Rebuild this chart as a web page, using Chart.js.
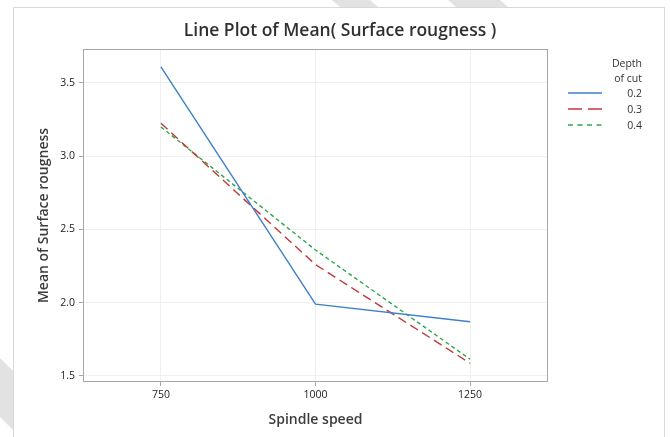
<!DOCTYPE html>
<html>
<head>
<meta charset="utf-8">
<script src="https://cdn.jsdelivr.net/npm/chart.js@4.4.1/dist/chart.umd.min.js"></script>
<style>
  html, body { margin: 0; padding: 0; background: #fff; }
  #wrap { position: relative; width: 670px; height: 437px; }
</style>
</head>
<body>
<div id="wrap"><canvas id="c" width="670" height="437"></canvas></div>
<script>
// ---- data ----
const spindleSpeed = [750, 1000, 1250];
const depthLabels = ['0.2', '0.3', '0.4'];
const mean02 = [3.61, 1.99, 1.87];
const mean03 = [3.225, 2.26, 1.587];
const mean04 = [3.2, 2.36, 1.614];
const yTicks = [1.5, 2.0, 2.5, 3.0, 3.5];
const xTicks = [750, 1000, 1250];
const chartTitle = 'Line Plot of Mean( Surface rougness )';
const xTitle = 'Spindle speed';
const yTitle = 'Mean of Surface rougness';
const legendTitle = ['Depth', 'of cut'];

const FONT = '"Open Sans", "Noto Sans", sans-serif';
const seriesVals = [mean02, mean03, mean04];
const colors = ['#3f7fc6', '#c1393b', '#2da84a'];
const dashes = [[], [9, 5], [4, 3]];
const legendDashes = [[], [14, 6], [5, 4.5]];

const datasets = seriesVals.map((vals, i) => ({
  label: depthLabels[i],
  data: spindleSpeed.map((x, j) => ({ x: x, y: vals[j] })),
  borderColor: colors[i],
  backgroundColor: colors[i],
  borderWidth: 1.4,
  borderDash: dashes[i],
  pointRadius: 0,
  fill: false,
  tension: 0
}));

const decor = {
  id: 'decor',
  beforeDraw(chart) {
    const ctx = chart.ctx;
    ctx.save();
    ctx.fillStyle = '#fff';
    ctx.fillRect(0, 0, chart.width, chart.height);
    // faint watermark bands
    ctx.fillStyle = '#e2e2e2';
    ctx.beginPath();
    ctx.moveTo(332, 0); ctx.lineTo(370, 0); ctx.lineTo(378, 7); ctx.lineTo(340, 7); ctx.closePath(); ctx.fill();
    ctx.beginPath();
    ctx.moveTo(448, 0); ctx.lineTo(500, 0); ctx.lineTo(508, 7); ctx.lineTo(456, 7); ctx.closePath(); ctx.fill();
    ctx.beginPath();
    ctx.moveTo(0, 358); ctx.lineTo(13, 371); ctx.lineTo(13, 430); ctx.lineTo(0, 417); ctx.closePath(); ctx.fill();
    // outer frame
    ctx.strokeStyle = '#d9d9d9';
    ctx.lineWidth = 1;
    ctx.strokeRect(13.5, 7.5, 651, 440);
    ctx.restore();
  },
  beforeDatasetsDraw(chart) {
    const a = chart.chartArea, ctx = chart.ctx;
    ctx.save();
    ctx.strokeStyle = '#a6a6a6';
    ctx.lineWidth = 1;
    ctx.strokeRect(Math.round(a.left) + 0.5, Math.round(a.top) + 0.5,
      Math.round(a.right - a.left) - 1, Math.round(a.bottom - a.top) - 1);
    ctx.restore();
  },
  afterDraw(chart) {
    const ctx = chart.ctx;
    ctx.save();
    // title
    ctx.fillStyle = '#303030';
    ctx.font = '600 17.5px ' + FONT;
    ctx.textAlign = 'center';
    ctx.textBaseline = 'middle';
    ctx.fillText(chartTitle, 340, 31);
    // legend
    ctx.font = '10.5px ' + FONT;
    ctx.textAlign = 'right';
    ctx.fillStyle = '#333';
    ctx.fillText(legendTitle[0], 642, 64);
    ctx.fillText(legendTitle[1], 642, 79);
    depthLabels.forEach((lab, i) => {
      const y = 93 + i * 16;
      ctx.fillStyle = '#333';
      ctx.fillText(lab, 642, y + 1);
      ctx.strokeStyle = colors[i];
      ctx.lineWidth = 1.5;
      ctx.setLineDash(legendDashes[i]);
      ctx.beginPath();
      ctx.moveTo(568, y);
      ctx.lineTo(602, y);
      ctx.stroke();
    });
    ctx.setLineDash([]);
    ctx.restore();
  }
};

new Chart(document.getElementById('c'), {
  type: 'line',
  data: { datasets: datasets },
  options: {
    responsive: false,
    animation: false,
    layout: { padding: { left: 13, right: 122, top: 49, bottom: 0 } },
    plugins: { legend: { display: false }, title: { display: false }, tooltip: { enabled: false } },
    scales: {
      x: {
        type: 'linear',
        min: 624, max: 1376,
        afterBuildTicks(s) { s.ticks = xTicks.map(v => ({ value: v })); },
        afterFit(s) { s.height = 55; },
        grid: { color: '#efefef', tickColor: '#a6a6a6', tickLength: 4, drawOnChartArea: true },
        border: { display: false },
        ticks: { color: '#222', font: { family: FONT, size: 10.5, weight: '500' }, padding: 3, maxRotation: 0,
                 callback: v => String(v) },
        title: { display: true, text: xTitle, color: '#3c3c3c', font: { family: FONT, size: 14, weight: '600' },
                 padding: { top: 0, bottom: 9 } }
      },
      y: {
        min: 1.459, max: 3.732,
        afterBuildTicks(s) { s.ticks = yTicks.map(v => ({ value: v })); },
        afterFit(s) { s.width = 70; },
        grid: { color: '#efefef', tickColor: '#a6a6a6', tickLength: 4 },
        border: { display: false },
        ticks: { color: '#222', font: { family: FONT, size: 10.5, weight: '500' }, padding: 4,
                 callback: v => v.toFixed(1) },
        title: { display: true, text: yTitle, color: '#3c3c3c', font: { family: FONT, size: 14, weight: '600' },
                 padding: { top: 23, bottom: 0 } }
      }
    }
  },
  plugins: [decor]
});
</script>
</body>
</html>
